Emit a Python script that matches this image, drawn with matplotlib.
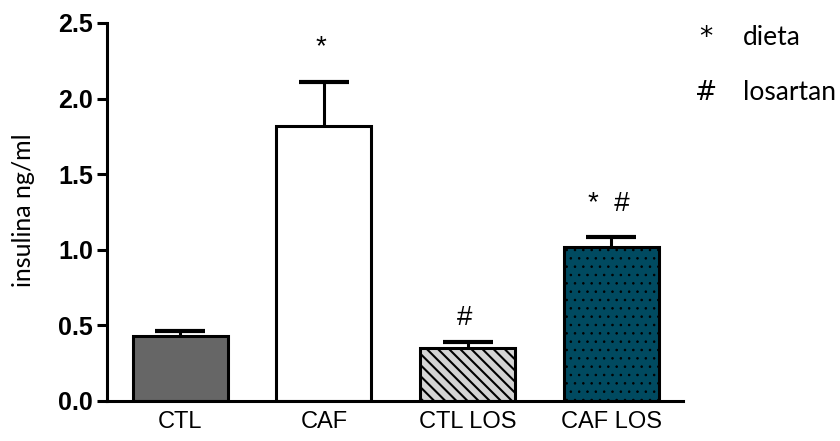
import matplotlib
matplotlib.use("Agg")
import matplotlib.pyplot as plt
import numpy as np

# insulin per group (mean, SEM)
groups = ["CTL", "CAF", "CTL LOS", "CAF LOS"]
insulina = [0.43, 1.82, 0.35, 1.02]
sem = [0.03, 0.29, 0.04, 0.065]
marks = ["", "*", "#", "*  #"]

face = ["#666666", "#ffffff", "#d4d4d4", "#004a60"]
hatches = [None, None, "\\\\\\", ".."]
hatch_lw = [1.5, 1.5, 1.5, 0.6]
mark_offset = [0, 25, 17, 24]  # points above the error cap

plt.rcParams["font.family"] = ["Liberation Sans", "DejaVu Sans"]

fig = plt.figure(figsize=(8.4, 4.41), dpi=100)
ax = fig.add_axes([107 / 840, 1 - 401 / 441, (683 - 107) / 840, (401 - 23) / 441])

x = np.arange(len(groups))
eb = ax.errorbar(x, insulina, yerr=[np.zeros(len(sem)), sem], fmt="none",
                 ecolor="black", elinewidth=2.2, capsize=18, capthick=3, zorder=1)
# only the upper cap is shown
eb[1][0].set_visible(False)

for i in range(len(groups)):
    with plt.rc_context({"hatch.linewidth": hatch_lw[i]}):
        ax.bar(x[i], insulina[i], width=0.66, color=face[i], edgecolor="black",
               linewidth=2.2, hatch=hatches[i], zorder=2)

for xi, m, s, t, off in zip(x, insulina, sem, marks, mark_offset):
    if t:
        ax.annotate(t, (xi, m + s), xytext=(-2, off), textcoords="offset points",
                    ha="center", va="center", fontsize=20)

ax.set_xlim(-0.51, 3.5)
ax.set_ylim(0, 2.5)
ax.set_yticks([0, 0.5, 1.0, 1.5, 2.0, 2.5])
ax.set_yticklabels(["0.0", "0.5", "1.0", "1.5", "2.0", "2.5"], fontweight="bold", fontsize=18)
ax.set_xticks(x)
ax.set_xticklabels(groups, fontsize=17)
ax.tick_params(axis="x", length=0, pad=7)
ax.tick_params(axis="y", length=7, width=2.2, pad=3)
for side in ["top", "right"]:
    ax.spines[side].set_visible(False)
for side in ["left", "bottom"]:
    ax.spines[side].set_linewidth(2.2)

fig.text(24 / 840, 1 - 210 / 441, "insulina ng/ml", rotation=90, ha="center",
         va="center", fontsize=18, family=["Lato", "DejaVu Sans"])

# legend for the significance marks
for sym, word, ybase in [("*", "dieta", 45), ("#", "losartan", 100)]:
    fig.text(706 / 840, 1 - ybase / 441, sym, ha="center", va="baseline",
             fontsize=19, family=["DejaVu Sans"])
    fig.text(743 / 840, 1 - ybase / 441, word, ha="left", va="baseline",
             fontsize=19, family=["Lato", "DejaVu Sans"])

fig.savefig("out.png", dpi=100)
